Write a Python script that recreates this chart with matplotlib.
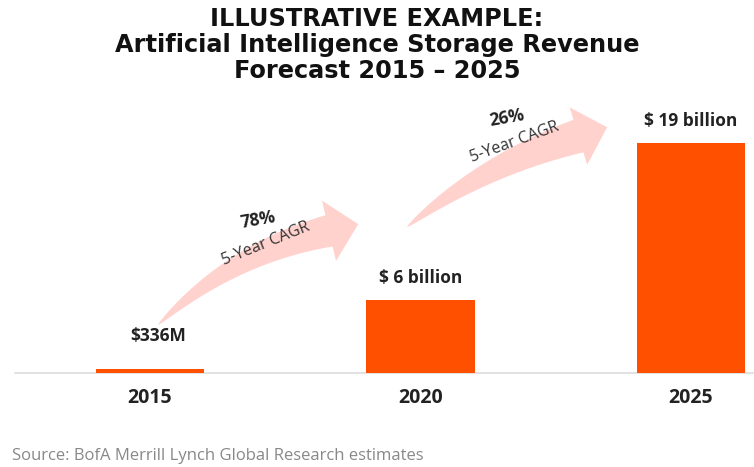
import numpy as np
import matplotlib
matplotlib.use("Agg")
import matplotlib.pyplot as plt
from matplotlib.patches import Polygon

years = ["2015", "2020", "2025"]
revenue_bn = [0.336, 6.0, 19.0]
value_labels = ["$336M", "$ 6 billion", "$ 19 billion"]
cagr_labels = ["78%", "26%"]
cagr_sub = "5-Year CAGR"
title = "ILLUSTRATIVE EXAMPLE:\nArtificial Intelligence Storage Revenue\nForecast 2015 \u2013 2025"
source = "Source: BofA Merrill Lynch Global Research estimates"

FONT = "Open Sans"
W, H = 754, 467
fig = plt.figure(figsize=(W / 100, H / 100), dpi=100)
fig.patch.set_facecolor("white")

# axes: x from 15px to 754px, y from 90px (top) to 373px (baseline)
ax = fig.add_axes([15 / W, (H - 373) / H, (W - 15) / W, (373 - 90) / H])
x = np.arange(len(years))
ax.bar(x, revenue_bn, width=0.4, color="#FF5000", zorder=3)
ax.set_xlim(-0.499, 2.233)
ax.set_ylim(0, 23.38)
for s in ["top", "right", "left"]:
    ax.spines[s].set_visible(False)
ax.spines["bottom"].set_color("#dddddd")
ax.spines["bottom"].set_linewidth(1.2)
ax.set_yticks([])
ax.set_xticks(x)
ax.set_xticklabels(years, fontsize=14, fontweight="bold", color="#222222", family=FONT)
ax.tick_params(axis="x", length=0, pad=11)

# value labels
offsets_px = [(8, 33), (0, 22), (0, 22)]
for xi, v, lab, (dx, dy) in zip(x, revenue_bn, value_labels, offsets_px):
    ax.annotate(lab, (xi, v), xytext=(dx, dy), textcoords="offset pixels",
                ha="center", va="center", fontsize=12.5, fontweight="bold",
                color="#222222", family=FONT)

fig.canvas.draw()
to_disp = ax.transData
inv = ax.transData.inverted()


def curved_arrow(tail_data, tip_data, theta_deg, body_w=30, head_half=31, head_len=30, k=100,
                 color="#FFD2CE"):
    T = to_disp.transform(tail_data)
    P = to_disp.transform(tip_data)
    th = np.radians(theta_deg)
    d = np.array([np.cos(th), np.sin(th)])
    n = np.array([-d[1], d[0]])
    B = P - head_len * d
    C = B - k * d
    t = np.linspace(0, 1, 80)[:, None]
    pts = (1 - t) ** 2 * T + 2 * (1 - t) * t * C + t ** 2 * B
    der = 2 * (1 - t) * (C - T) + 2 * t * (B - C)
    der = der / np.linalg.norm(der, axis=1)[:, None]
    nn = np.column_stack([-der[:, 1], der[:, 0]])
    w = body_w * (t[:, 0] ** 0.7)
    left = pts + nn * (w[:, None] / 2)
    right = pts - nn * (w[:, None] / 2)
    head = [B + n * head_half, P, B - n * head_half]
    poly = np.vstack([left, head, right[::-1]])
    poly = inv.transform(poly)
    ax.add_patch(Polygon(poly, closed=True, facecolor=color, edgecolor="none", zorder=1,
                         clip_on=False))


curved_arrow((0.03, 3.97), (0.77, 12.3), 13, body_w=32)
curved_arrow((0.95, 12.06), (1.69, 20.3), 17, body_w=34, head_half=30)

# CAGR labels
for lab, (px, py), (sx, sy), rot2 in zip(
        cagr_labels,
        [(258, 220), (507, 118)],
        [(266, 244), (515, 142)],
        [22, 20]):
    ax.text(px / W, 1 - py / H, lab, transform=fig.transFigure, ha="center", va="center",
            fontsize=12.5, fontweight="bold", color="#222222", rotation=10, family=FONT)
    ax.text(sx / W, 1 - sy / H, cagr_sub, transform=fig.transFigure, ha="center", va="center",
            fontsize=11.5, color="#333333", rotation=rot2, family=FONT)

fig.text(0.5, 1 - 45 / H, title, ha="center", va="center", fontsize=17.3,
         fontweight="bold", color="#111111", family="DejaVu Sans", linespacing=1.12)
fig.text(12 / W, 1 - 456 / H, source, ha="left", va="center", fontsize=12,
         color="#888888", family=FONT)

fig.savefig("out.png", dpi=100, facecolor="white")
